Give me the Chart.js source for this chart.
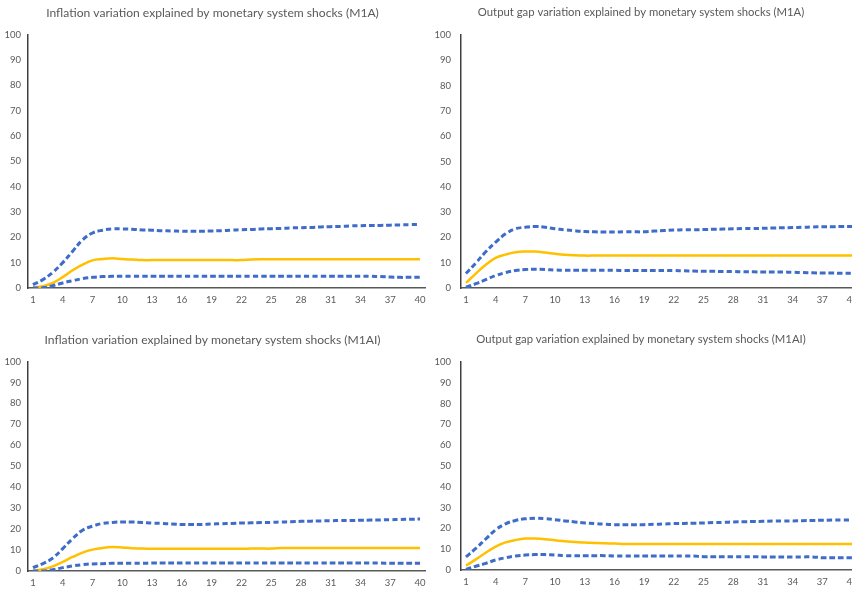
<!DOCTYPE html>
<html>
<head>
<meta charset="utf-8">
<script src="https://cdn.jsdelivr.net/npm/chart.js@4"></script>
<style>
  html, body { margin: 0; padding: 0; background: #fff; overflow: hidden; width: 852px; height: 592px; }
  canvas { position: absolute; }
</style>
</head>
<body>
<canvas id="c1" width="435" height="310" style="left:0px;top:0px"></canvas>
<canvas id="c2" width="450" height="310" style="left:425px;top:0px"></canvas>
<canvas id="c3" width="435" height="270" style="left:0px;top:322px"></canvas>
<canvas id="c4" width="450" height="270" style="left:425px;top:322px"></canvas>
<script>
// horizons 1..40
const periods = [1, 2, 3, 4, 5, 6, 7, 8, 9, 10, 11, 12, 13, 14, 15, 16, 17, 18, 19, 20,
    21, 22, 23, 24, 25, 26, 27, 28, 29, 30, 31, 32, 33, 34, 35, 36, 37, 38, 39, 40]
const yTicks = [0, 10, 20, 30, 40, 50, 60, 70, 80, 90, 100]

const titles = [
    'Inflation variation explained by monetary system shocks (M1A)',
    'Output gap variation explained by monetary system shocks (M1A)',
    'Inflation variation explained by monetary system shocks (M1AI)',
    'Output gap variation explained by monetary system shocks (M1AI)'
]

// M1A - inflation
const inflM1A_hi = [1.3, 3.3, 6.2, 10, 14.5, 19, 21.7, 22.8, 23.3, 23.3, 23.2, 22.9, 22.8, 22.6, 22.5, 22.4, 22.4, 22.4, 22.5, 22.6,
    22.8, 23.0, 23.1, 23.3, 23.4, 23.5, 23.7, 23.8, 23.9, 24.1, 24.2, 24.3, 24.5, 24.6, 24.7, 24.7, 24.8, 24.9, 25.0, 25.1]
const inflM1A_mid = [0.3, 0.7, 2.0, 4.3, 7.0, 9.2, 10.9, 11.4, 11.7, 11.4, 11.2, 11.0, 11.0, 11.0, 11.0, 11.0, 11.0, 11.0, 11.0, 11.0,
    11.0, 11.0, 11.2, 11.3, 11.3, 11.3, 11.3, 11.3, 11.3, 11.3, 11.3, 11.3, 11.3, 11.3, 11.3, 11.3, 11.3, 11.3, 11.3, 11.3]
const inflM1A_lo = [0, 0.1, 0.9, 2.0, 2.9, 3.7, 4.2, 4.5, 4.6, 4.6, 4.6, 4.6, 4.6, 4.6, 4.6, 4.6, 4.6, 4.6, 4.6, 4.6,
    4.6, 4.6, 4.6, 4.6, 4.6, 4.6, 4.6, 4.6, 4.6, 4.6, 4.6, 4.6, 4.6, 4.6, 4.6, 4.5, 4.3, 4.2, 4.2, 4.2]

// M1A - output gap
const gapM1A_hi = [5.7, 9.9, 14.3, 18.1, 21.4, 23.4, 24.0, 24.3, 24.0, 23.4, 23.0, 22.6, 22.3, 22.2, 22.1, 22.1, 22.2, 22.2, 22.2, 22.5,
    22.7, 22.9, 23.0, 23.0, 23.1, 23.2, 23.3, 23.4, 23.5, 23.5, 23.6, 23.7, 23.8, 23.9, 24.0, 24.1, 24.2, 24.2, 24.3, 24.3]
const gapM1A_mid = [2.0, 5.7, 9.2, 11.9, 13.2, 14.1, 14.4, 14.4, 14.0, 13.5, 13.1, 12.9, 12.8, 12.8, 12.8, 12.8, 12.8, 12.8, 12.8, 12.8,
    12.8, 12.8, 12.8, 12.8, 12.8, 12.8, 12.8, 12.8, 12.8, 12.8, 12.8, 12.8, 12.8, 12.8, 12.8, 12.8, 12.8, 12.8, 12.8, 12.8]
const gapM1A_lo = [0.3, 1.7, 3.3, 4.9, 6.1, 6.9, 7.3, 7.4, 7.3, 7.1, 7.0, 7.0, 7.0, 7.0, 7.0, 7.0, 6.9, 6.9, 6.9, 6.9,
    6.9, 6.9, 6.8, 6.7, 6.6, 6.6, 6.5, 6.5, 6.4, 6.4, 6.3, 6.3, 6.3, 6.2, 6.1, 6.0, 5.9, 5.9, 5.8, 5.8]

// M1AI - inflation
const inflM1AI_hi = [1.6, 3.5, 6.2, 10.7, 15.5, 19.5, 21.4, 22.7, 23.2, 23.4, 23.4, 23.2, 22.9, 22.7, 22.4, 22.2, 22.2, 22.2, 22.4, 22.6,
    22.7, 22.9, 23.0, 23.1, 23.2, 23.4, 23.5, 23.7, 23.8, 23.9, 24.0, 24.1, 24.1, 24.2, 24.3, 24.4, 24.5, 24.6, 24.7, 24.8]
const inflM1AI_mid = [0.2, 0.8, 2.2, 4.3, 6.7, 8.8, 10.2, 11.0, 11.4, 11.2, 10.9, 10.7, 10.6, 10.6, 10.6, 10.6, 10.6, 10.6, 10.6, 10.6,
    10.6, 10.6, 10.7, 10.7, 10.7, 11.0, 11.0, 11.0, 11.0, 11.0, 11.0, 11.0, 11.0, 11.0, 11.0, 11.0, 11.0, 11.0, 11.0, 11.0]
const inflM1AI_lo = [0, 0, 0.6, 1.6, 2.4, 3.0, 3.4, 3.5, 3.7, 3.7, 3.7, 3.7, 3.8, 3.8, 3.8, 3.8, 3.8, 3.8, 3.8, 3.8,
    3.8, 3.8, 3.8, 3.8, 3.8, 3.8, 3.8, 3.8, 3.8, 3.8, 3.8, 3.8, 3.8, 3.8, 3.8, 3.8, 3.7, 3.7, 3.7, 3.7]

// M1AI - output gap
const gapM1AI_hi = [6.3, 10.4, 14.9, 19.3, 22.2, 23.8, 24.6, 24.9, 24.7, 24.2, 23.6, 23.1, 22.6, 22.3, 22.0, 21.8, 21.8, 21.8, 21.8, 22.0,
    22.1, 22.3, 22.4, 22.5, 22.6, 22.8, 22.9, 23.1, 23.2, 23.3, 23.4, 23.5, 23.5, 23.6, 23.7, 23.8, 23.9, 24.0, 24.0, 24.1]
const gapM1AI_mid = [2.1, 5.1, 8.3, 11.2, 13.3, 14.4, 15.1, 15.1, 14.8, 14.3, 13.8, 13.5, 13.2, 13.0, 12.8, 12.7, 12.5, 12.5, 12.5, 12.5,
    12.5, 12.5, 12.5, 12.5, 12.5, 12.5, 12.5, 12.5, 12.5, 12.5, 12.5, 12.5, 12.5, 12.5, 12.5, 12.5, 12.5, 12.5, 12.5, 12.5]
const gapM1AI_lo = [0.3, 1.8, 3.2, 4.8, 5.9, 6.7, 7.2, 7.4, 7.4, 7.2, 6.9, 6.9, 6.9, 6.9, 6.9, 6.7, 6.7, 6.7, 6.7, 6.7,
    6.7, 6.7, 6.7, 6.7, 6.4, 6.4, 6.4, 6.4, 6.4, 6.4, 6.3, 6.3, 6.3, 6.3, 6.3, 6.3, 5.9, 5.9, 5.9, 5.9]

const blue = '#3F6CC9'
const yellow = '#FFC000'
const grey = '#595959'
const fontFam = 'Lato, "Open Sans", sans-serif'

function band(data) {
    return {
        data: data,
        borderColor: blue,
        borderWidth: 3,
        borderDash: [5.5, 3],
        pointRadius: 0,
        tension: 0.4,
        fill: false
    }
}

function makeChart(id, title, hi, mid, lo, o) {
    new Chart(document.getElementById(id), {
        type: 'line',
        data: {
            labels: periods,
            datasets: [
                band(hi),
                band(lo),
                { data: mid, borderColor: yellow, borderWidth: 2.5, pointRadius: 0, tension: 0.4, fill: false }
            ]
        },
        options: {
            responsive: false,
            animation: false,
            events: [],
            layout: { padding: { left: 0, right: o.padRight, top: 0, bottom: 0 } },
            plugins: {
                legend: { display: false },
                tooltip: { enabled: false },
                title: {
                    display: true,
                    text: title,
                    color: grey,
                    font: { family: fontFam, size: o.titleSize, weight: 'normal', lineHeight: 1.2 },
                    padding: { top: o.titleTop, bottom: o.titleBottom }
                }
            },
            scales: {
                x: {
                    offset: true,
                    grid: { display: false, drawTicks: false },
                    border: { display: true, color: grey, width: 1.5 },
                    ticks: {
                        color: grey,
                        font: { family: fontFam, size: 9.5 },
                        padding: 6,
                        autoSkip: false,
                        maxRotation: 0,
                        callback: (v, i) => i % 3 === 0 ? periods[i] : ''
                    },
                    afterFit: s => { s.height = o.xHeight }
                },
                y: {
                    min: 0,
                    max: 100,
                    afterBuildTicks: s => { s.ticks = yTicks.map(v => ({ value: v })) },
                    grid: { display: false, drawTicks: false },
                    border: { display: true, color: '#404040', width: 1.5 },
                    ticks: { color: grey, font: { family: fontFam, size: 9.5 }, padding: o.yPad },
                    afterFit: s => { s.width = o.yWidth }
                }
            }
        }
    })
}

makeChart('c1', titles[0], inflM1A_hi, inflM1A_mid, inflM1A_lo,
    { padRight: 10, titleSize: 12.1, titleTop: 5.5, titleBottom: 14.5, xHeight: 22, yWidth: 28, yPad: 7 })
makeChart('c2', titles[1], gapM1A_hi, gapM1A_mid, gapM1A_lo,
    { padRight: 18, titleSize: 11.3, titleTop: 6, titleBottom: 15.4, xHeight: 22, yWidth: 36, yPad: 10 })
makeChart('c3', titles[2], inflM1AI_hi, inflM1AI_mid, inflM1AI_lo,
    { padRight: 10, titleSize: 12.1, titleTop: 10.5, titleBottom: 14.5, xHeight: 21, yWidth: 28, yPad: 7 })
makeChart('c4', titles[3], gapM1AI_hi, gapM1AI_mid, gapM1AI_lo,
    { padRight: 18, titleSize: 11.3, titleTop: 11, titleBottom: 15.4, xHeight: 22, yWidth: 36, yPad: 10 })
</script>
</body>
</html>
